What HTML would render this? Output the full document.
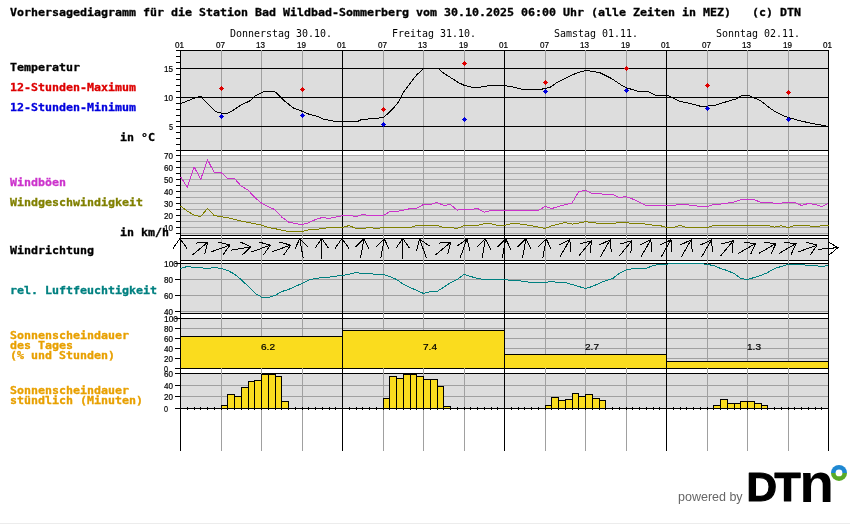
<!DOCTYPE html>
<html lang="de"><head><meta charset="utf-8"><title>Vorhersagediagramm Bad Wildbad-Sommerberg</title>
<style>
html,body{margin:0;padding:0;background:#fff;}
body{width:850px;height:524px;overflow:hidden;position:relative;}
svg{position:absolute;left:0;top:0;display:block;}
.b{font-family:"DejaVu Sans Mono","Liberation Mono",monospace;font-weight:bold;font-size:11px;}
.s{font-family:"DejaVu Sans Mono","Liberation Mono",monospace;font-size:10.5px;}
.t{font-family:"Liberation Sans","DejaVu Sans",sans-serif;font-size:8.6px;fill:#000;stroke:#000;stroke-width:0.2px;}
.crisp{shape-rendering:crispEdges;}
.ln{fill:none;stroke-width:1;shape-rendering:crispEdges;}
</style></head><body>
<svg width="850" height="524" viewBox="0 0 850 524">
<rect x="0" y="0" width="850" height="524" fill="#ffffff"/>
<rect x="0" y="523" width="850" height="1" fill="#ececec"/>
<g class="crisp">
<rect x="180" y="50" width="649" height="101" fill="#dddddd"/>
<rect x="180" y="155" width="649" height="81" fill="#dddddd"/>
<rect x="180" y="238" width="649" height="23" fill="#dddddd"/>
<rect x="180" y="263" width="649" height="51" fill="#dddddd"/>
<rect x="180" y="318" width="649" height="51" fill="#dddddd"/>
<rect x="180" y="373" width="649" height="36" fill="#dddddd"/>
<rect x="180" y="155" width="649" height="1" fill="#aaaaaa"/>
<rect x="180" y="161" width="649" height="1" fill="#aaaaaa"/>
<rect x="180" y="167" width="649" height="1" fill="#aaaaaa"/>
<rect x="180" y="173" width="649" height="1" fill="#aaaaaa"/>
<rect x="180" y="179" width="649" height="1" fill="#aaaaaa"/>
<rect x="180" y="185" width="649" height="1" fill="#aaaaaa"/>
<rect x="180" y="191" width="649" height="1" fill="#aaaaaa"/>
<rect x="180" y="197" width="649" height="1" fill="#aaaaaa"/>
<rect x="180" y="203" width="649" height="1" fill="#aaaaaa"/>
<rect x="180" y="209" width="649" height="1" fill="#aaaaaa"/>
<rect x="180" y="215" width="649" height="1" fill="#aaaaaa"/>
<rect x="180" y="221" width="649" height="1" fill="#aaaaaa"/>
<rect x="180" y="227" width="649" height="1" fill="#aaaaaa"/>
<rect x="180" y="233" width="649" height="1" fill="#aaaaaa"/>
<rect x="180" y="279" width="649" height="1" fill="#a0a0a0"/>
<rect x="180" y="295" width="649" height="1" fill="#a0a0a0"/>
<rect x="180" y="311" width="649" height="1" fill="#a0a0a0"/>
<rect x="180" y="328" width="649" height="1" fill="#a0a0a0"/>
<rect x="180" y="338" width="649" height="1" fill="#a0a0a0"/>
<rect x="180" y="348" width="649" height="1" fill="#a0a0a0"/>
<rect x="180" y="358" width="649" height="1" fill="#a0a0a0"/>
<rect x="180" y="385" width="649" height="1" fill="#a0a0a0"/>
<rect x="180" y="396" width="649" height="1" fill="#a0a0a0"/>
<rect x="180" y="50" width="649" height="1" fill="#000"/>
<rect x="180" y="150" width="649" height="1" fill="#000"/>
<rect x="180" y="235" width="649" height="1" fill="#000"/>
<rect x="180" y="238" width="649" height="1" fill="#000"/>
<rect x="180" y="260" width="649" height="1" fill="#000"/>
<rect x="180" y="263" width="649" height="1" fill="#000"/>
<rect x="180" y="313" width="649" height="1" fill="#000"/>
<rect x="180" y="318" width="649" height="1" fill="#000"/>
<rect x="180" y="368" width="649" height="1" fill="#000"/>
<rect x="180" y="373" width="649" height="1" fill="#000"/>
<rect x="221" y="50" width="1" height="401" fill="#a0a0a0"/>
<rect x="261" y="50" width="1" height="401" fill="#a0a0a0"/>
<rect x="302" y="50" width="1" height="401" fill="#a0a0a0"/>
<rect x="383" y="50" width="1" height="401" fill="#a0a0a0"/>
<rect x="423" y="50" width="1" height="401" fill="#a0a0a0"/>
<rect x="464" y="50" width="1" height="401" fill="#a0a0a0"/>
<rect x="545" y="50" width="1" height="401" fill="#a0a0a0"/>
<rect x="585" y="50" width="1" height="401" fill="#a0a0a0"/>
<rect x="626" y="50" width="1" height="401" fill="#a0a0a0"/>
<rect x="707" y="50" width="1" height="401" fill="#a0a0a0"/>
<rect x="747" y="50" width="1" height="401" fill="#a0a0a0"/>
<rect x="788" y="50" width="1" height="401" fill="#a0a0a0"/>
<rect x="180" y="68" width="649" height="1" fill="#000"/>
<rect x="180" y="97" width="649" height="1" fill="#000"/>
<rect x="180" y="126" width="649" height="1" fill="#000"/>
<rect x="180" y="336" width="163" height="32" fill="#fadc1e"/>
<rect x="180" y="336" width="163" height="1" fill="#000"/>
<rect x="342" y="330" width="163" height="38" fill="#fadc1e"/>
<rect x="342" y="330" width="163" height="1" fill="#000"/>
<rect x="504" y="354" width="163" height="14" fill="#fadc1e"/>
<rect x="504" y="354" width="163" height="1" fill="#000"/>
<rect x="666" y="361" width="163" height="7" fill="#fadc1e"/>
<rect x="666" y="361" width="163" height="1" fill="#000"/>
<rect x="221" y="405" width="7" height="3" fill="#000"/>
<rect x="222" y="406" width="5" height="2" fill="#fadc1e"/>
<rect x="227" y="394" width="8" height="14" fill="#000"/>
<rect x="228" y="395" width="6" height="13" fill="#fadc1e"/>
<rect x="234" y="396" width="8" height="12" fill="#000"/>
<rect x="235" y="397" width="6" height="11" fill="#fadc1e"/>
<rect x="241" y="387" width="8" height="21" fill="#000"/>
<rect x="242" y="388" width="6" height="20" fill="#fadc1e"/>
<rect x="248" y="381" width="7" height="27" fill="#000"/>
<rect x="249" y="382" width="5" height="26" fill="#fadc1e"/>
<rect x="254" y="380" width="8" height="28" fill="#000"/>
<rect x="255" y="381" width="6" height="27" fill="#fadc1e"/>
<rect x="261" y="374" width="8" height="34" fill="#000"/>
<rect x="262" y="375" width="6" height="33" fill="#fadc1e"/>
<rect x="268" y="374" width="8" height="34" fill="#000"/>
<rect x="269" y="375" width="6" height="33" fill="#fadc1e"/>
<rect x="275" y="376" width="7" height="32" fill="#000"/>
<rect x="276" y="377" width="5" height="31" fill="#fadc1e"/>
<rect x="281" y="401" width="8" height="7" fill="#000"/>
<rect x="282" y="402" width="6" height="6" fill="#fadc1e"/>
<rect x="383" y="398" width="7" height="10" fill="#000"/>
<rect x="384" y="399" width="5" height="9" fill="#fadc1e"/>
<rect x="389" y="376" width="8" height="32" fill="#000"/>
<rect x="390" y="377" width="6" height="31" fill="#fadc1e"/>
<rect x="396" y="378" width="8" height="30" fill="#000"/>
<rect x="397" y="379" width="6" height="29" fill="#fadc1e"/>
<rect x="403" y="374" width="8" height="34" fill="#000"/>
<rect x="404" y="375" width="6" height="33" fill="#fadc1e"/>
<rect x="410" y="374" width="7" height="34" fill="#000"/>
<rect x="411" y="375" width="5" height="33" fill="#fadc1e"/>
<rect x="416" y="376" width="8" height="32" fill="#000"/>
<rect x="417" y="377" width="6" height="31" fill="#fadc1e"/>
<rect x="423" y="379" width="8" height="29" fill="#000"/>
<rect x="424" y="380" width="6" height="28" fill="#fadc1e"/>
<rect x="430" y="379" width="8" height="29" fill="#000"/>
<rect x="431" y="380" width="6" height="28" fill="#fadc1e"/>
<rect x="437" y="386" width="7" height="22" fill="#000"/>
<rect x="438" y="387" width="5" height="21" fill="#fadc1e"/>
<rect x="443" y="406" width="8" height="2" fill="#000"/>
<rect x="444" y="407" width="6" height="1" fill="#fadc1e"/>
<rect x="545" y="405" width="7" height="3" fill="#000"/>
<rect x="546" y="406" width="5" height="2" fill="#fadc1e"/>
<rect x="551" y="397" width="8" height="11" fill="#000"/>
<rect x="552" y="398" width="6" height="10" fill="#fadc1e"/>
<rect x="558" y="400" width="8" height="8" fill="#000"/>
<rect x="559" y="401" width="6" height="7" fill="#fadc1e"/>
<rect x="565" y="399" width="8" height="9" fill="#000"/>
<rect x="566" y="400" width="6" height="8" fill="#fadc1e"/>
<rect x="572" y="393" width="7" height="15" fill="#000"/>
<rect x="573" y="394" width="5" height="14" fill="#fadc1e"/>
<rect x="578" y="396" width="8" height="12" fill="#000"/>
<rect x="579" y="397" width="6" height="11" fill="#fadc1e"/>
<rect x="585" y="394" width="8" height="14" fill="#000"/>
<rect x="586" y="395" width="6" height="13" fill="#fadc1e"/>
<rect x="592" y="398" width="8" height="10" fill="#000"/>
<rect x="593" y="399" width="6" height="9" fill="#fadc1e"/>
<rect x="599" y="400" width="7" height="8" fill="#000"/>
<rect x="600" y="401" width="5" height="7" fill="#fadc1e"/>
<rect x="713" y="405" width="8" height="3" fill="#000"/>
<rect x="714" y="406" width="6" height="2" fill="#fadc1e"/>
<rect x="720" y="399" width="8" height="9" fill="#000"/>
<rect x="721" y="400" width="6" height="8" fill="#fadc1e"/>
<rect x="727" y="403" width="8" height="5" fill="#000"/>
<rect x="728" y="404" width="6" height="4" fill="#fadc1e"/>
<rect x="734" y="403" width="7" height="5" fill="#000"/>
<rect x="735" y="404" width="5" height="4" fill="#fadc1e"/>
<rect x="740" y="401" width="8" height="7" fill="#000"/>
<rect x="741" y="402" width="6" height="6" fill="#fadc1e"/>
<rect x="747" y="401" width="8" height="7" fill="#000"/>
<rect x="748" y="402" width="6" height="6" fill="#fadc1e"/>
<rect x="754" y="403" width="8" height="5" fill="#000"/>
<rect x="755" y="404" width="6" height="4" fill="#fadc1e"/>
<rect x="761" y="405" width="7" height="3" fill="#000"/>
<rect x="762" y="406" width="5" height="2" fill="#fadc1e"/>
<rect x="180" y="50" width="1" height="401" fill="#000"/>
<rect x="342" y="50" width="1" height="401" fill="#000"/>
<rect x="504" y="50" width="1" height="401" fill="#000"/>
<rect x="666" y="50" width="1" height="401" fill="#000"/>
<rect x="828" y="50" width="1" height="401" fill="#000"/>
<rect x="175" y="408" width="654" height="1" fill="#000"/>
<rect x="187" y="407" width="1" height="3" fill="#000"/>
<rect x="194" y="407" width="1" height="3" fill="#000"/>
<rect x="200" y="407" width="1" height="3" fill="#000"/>
<rect x="207" y="407" width="1" height="3" fill="#000"/>
<rect x="214" y="407" width="1" height="3" fill="#000"/>
<rect x="221" y="407" width="1" height="3" fill="#000"/>
<rect x="227" y="407" width="1" height="3" fill="#000"/>
<rect x="234" y="407" width="1" height="3" fill="#000"/>
<rect x="241" y="407" width="1" height="3" fill="#000"/>
<rect x="248" y="407" width="1" height="3" fill="#000"/>
<rect x="254" y="407" width="1" height="3" fill="#000"/>
<rect x="261" y="407" width="1" height="3" fill="#000"/>
<rect x="268" y="407" width="1" height="3" fill="#000"/>
<rect x="275" y="407" width="1" height="3" fill="#000"/>
<rect x="281" y="407" width="1" height="3" fill="#000"/>
<rect x="288" y="407" width="1" height="3" fill="#000"/>
<rect x="295" y="407" width="1" height="3" fill="#000"/>
<rect x="302" y="407" width="1" height="3" fill="#000"/>
<rect x="308" y="407" width="1" height="3" fill="#000"/>
<rect x="315" y="407" width="1" height="3" fill="#000"/>
<rect x="322" y="407" width="1" height="3" fill="#000"/>
<rect x="329" y="407" width="1" height="3" fill="#000"/>
<rect x="335" y="407" width="1" height="3" fill="#000"/>
<rect x="342" y="407" width="1" height="3" fill="#000"/>
<rect x="349" y="407" width="1" height="3" fill="#000"/>
<rect x="356" y="407" width="1" height="3" fill="#000"/>
<rect x="362" y="407" width="1" height="3" fill="#000"/>
<rect x="369" y="407" width="1" height="3" fill="#000"/>
<rect x="376" y="407" width="1" height="3" fill="#000"/>
<rect x="383" y="407" width="1" height="3" fill="#000"/>
<rect x="389" y="407" width="1" height="3" fill="#000"/>
<rect x="396" y="407" width="1" height="3" fill="#000"/>
<rect x="403" y="407" width="1" height="3" fill="#000"/>
<rect x="410" y="407" width="1" height="3" fill="#000"/>
<rect x="416" y="407" width="1" height="3" fill="#000"/>
<rect x="423" y="407" width="1" height="3" fill="#000"/>
<rect x="430" y="407" width="1" height="3" fill="#000"/>
<rect x="437" y="407" width="1" height="3" fill="#000"/>
<rect x="443" y="407" width="1" height="3" fill="#000"/>
<rect x="450" y="407" width="1" height="3" fill="#000"/>
<rect x="457" y="407" width="1" height="3" fill="#000"/>
<rect x="464" y="407" width="1" height="3" fill="#000"/>
<rect x="470" y="407" width="1" height="3" fill="#000"/>
<rect x="477" y="407" width="1" height="3" fill="#000"/>
<rect x="484" y="407" width="1" height="3" fill="#000"/>
<rect x="491" y="407" width="1" height="3" fill="#000"/>
<rect x="497" y="407" width="1" height="3" fill="#000"/>
<rect x="504" y="407" width="1" height="3" fill="#000"/>
<rect x="511" y="407" width="1" height="3" fill="#000"/>
<rect x="518" y="407" width="1" height="3" fill="#000"/>
<rect x="524" y="407" width="1" height="3" fill="#000"/>
<rect x="531" y="407" width="1" height="3" fill="#000"/>
<rect x="538" y="407" width="1" height="3" fill="#000"/>
<rect x="545" y="407" width="1" height="3" fill="#000"/>
<rect x="551" y="407" width="1" height="3" fill="#000"/>
<rect x="558" y="407" width="1" height="3" fill="#000"/>
<rect x="565" y="407" width="1" height="3" fill="#000"/>
<rect x="572" y="407" width="1" height="3" fill="#000"/>
<rect x="578" y="407" width="1" height="3" fill="#000"/>
<rect x="585" y="407" width="1" height="3" fill="#000"/>
<rect x="592" y="407" width="1" height="3" fill="#000"/>
<rect x="599" y="407" width="1" height="3" fill="#000"/>
<rect x="605" y="407" width="1" height="3" fill="#000"/>
<rect x="612" y="407" width="1" height="3" fill="#000"/>
<rect x="619" y="407" width="1" height="3" fill="#000"/>
<rect x="626" y="407" width="1" height="3" fill="#000"/>
<rect x="632" y="407" width="1" height="3" fill="#000"/>
<rect x="639" y="407" width="1" height="3" fill="#000"/>
<rect x="646" y="407" width="1" height="3" fill="#000"/>
<rect x="653" y="407" width="1" height="3" fill="#000"/>
<rect x="659" y="407" width="1" height="3" fill="#000"/>
<rect x="666" y="407" width="1" height="3" fill="#000"/>
<rect x="673" y="407" width="1" height="3" fill="#000"/>
<rect x="680" y="407" width="1" height="3" fill="#000"/>
<rect x="686" y="407" width="1" height="3" fill="#000"/>
<rect x="693" y="407" width="1" height="3" fill="#000"/>
<rect x="700" y="407" width="1" height="3" fill="#000"/>
<rect x="707" y="407" width="1" height="3" fill="#000"/>
<rect x="713" y="407" width="1" height="3" fill="#000"/>
<rect x="720" y="407" width="1" height="3" fill="#000"/>
<rect x="727" y="407" width="1" height="3" fill="#000"/>
<rect x="734" y="407" width="1" height="3" fill="#000"/>
<rect x="740" y="407" width="1" height="3" fill="#000"/>
<rect x="747" y="407" width="1" height="3" fill="#000"/>
<rect x="754" y="407" width="1" height="3" fill="#000"/>
<rect x="761" y="407" width="1" height="3" fill="#000"/>
<rect x="767" y="407" width="1" height="3" fill="#000"/>
<rect x="774" y="407" width="1" height="3" fill="#000"/>
<rect x="781" y="407" width="1" height="3" fill="#000"/>
<rect x="788" y="407" width="1" height="3" fill="#000"/>
<rect x="794" y="407" width="1" height="3" fill="#000"/>
<rect x="801" y="407" width="1" height="3" fill="#000"/>
<rect x="808" y="407" width="1" height="3" fill="#000"/>
<rect x="815" y="407" width="1" height="3" fill="#000"/>
<rect x="821" y="407" width="1" height="3" fill="#000"/>
<rect x="176" y="150" width="5" height="1" fill="#000"/>
<rect x="176" y="144" width="5" height="1" fill="#000"/>
<rect x="176" y="138" width="5" height="1" fill="#000"/>
<rect x="176" y="132" width="5" height="1" fill="#000"/>
<rect x="176" y="126" width="5" height="1" fill="#000"/>
<rect x="176" y="121" width="5" height="1" fill="#000"/>
<rect x="176" y="115" width="5" height="1" fill="#000"/>
<rect x="176" y="109" width="5" height="1" fill="#000"/>
<rect x="176" y="103" width="5" height="1" fill="#000"/>
<rect x="176" y="97" width="5" height="1" fill="#000"/>
<rect x="176" y="91" width="5" height="1" fill="#000"/>
<rect x="176" y="85" width="5" height="1" fill="#000"/>
<rect x="176" y="79" width="5" height="1" fill="#000"/>
<rect x="176" y="74" width="5" height="1" fill="#000"/>
<rect x="176" y="68" width="5" height="1" fill="#000"/>
<rect x="176" y="62" width="5" height="1" fill="#000"/>
<rect x="176" y="56" width="5" height="1" fill="#000"/>
<rect x="176" y="50" width="5" height="1" fill="#000"/>
<rect x="176" y="155" width="5" height="1" fill="#000"/>
<rect x="176" y="161" width="5" height="1" fill="#000"/>
<rect x="176" y="167" width="5" height="1" fill="#000"/>
<rect x="176" y="173" width="5" height="1" fill="#000"/>
<rect x="176" y="179" width="5" height="1" fill="#000"/>
<rect x="176" y="185" width="5" height="1" fill="#000"/>
<rect x="176" y="191" width="5" height="1" fill="#000"/>
<rect x="176" y="197" width="5" height="1" fill="#000"/>
<rect x="176" y="203" width="5" height="1" fill="#000"/>
<rect x="176" y="209" width="5" height="1" fill="#000"/>
<rect x="176" y="215" width="5" height="1" fill="#000"/>
<rect x="176" y="221" width="5" height="1" fill="#000"/>
<rect x="176" y="227" width="5" height="1" fill="#000"/>
<rect x="176" y="233" width="5" height="1" fill="#000"/>
<rect x="175" y="263" width="6" height="1" fill="#000"/>
<rect x="175" y="279" width="6" height="1" fill="#000"/>
<rect x="175" y="295" width="6" height="1" fill="#000"/>
<rect x="175" y="311" width="6" height="1" fill="#000"/>
<rect x="175" y="318" width="6" height="1" fill="#000"/>
<rect x="175" y="328" width="6" height="1" fill="#000"/>
<rect x="175" y="338" width="6" height="1" fill="#000"/>
<rect x="175" y="348" width="6" height="1" fill="#000"/>
<rect x="175" y="358" width="6" height="1" fill="#000"/>
<rect x="175" y="368" width="6" height="1" fill="#000"/>
<rect x="175" y="373" width="6" height="1" fill="#000"/>
<rect x="175" y="385" width="6" height="1" fill="#000"/>
<rect x="175" y="396" width="6" height="1" fill="#000"/>
</g>
<polyline class="ln" stroke="#000000" points="180.5,103.7 190.5,99.7 200.5,96.1 205.5,101.7 215.5,111.7 221.9,113.1 227.5,113.1 233.5,110.1 241.5,104.7 249.5,101.1 255.5,95.7 262.5,92.1 268.5,91.1 275.5,92.1 283.5,100.1 293.5,108.1 303.5,111.7 309.5,114.5 316.5,116.1 323.5,119.1 333.5,121.1 342.5,121.5 357.5,121.5 361.5,119.5 375.5,118.5 383.9,117.3 393.5,108.1 399.1,101.1 402.5,93.7 409.5,84.1 416.5,75.1 423.5,68.5 438.5,68.5 443.5,73.1 451.5,78.1 457.5,82.1 464.5,85.5 471.5,87.1 478.5,87.5 489.5,85.5 504.5,85.5 513.5,87.1 522.5,89.5 540.5,89.5 550.5,87.1 557.5,82.1 567.5,77.1 577.5,72.7 586.5,70.5 599.5,72.5 611.5,78.5 621.5,85.1 627.5,88.1 637.5,91.1 647.5,91.5 656.5,95.5 668.5,95.7 679.5,101.1 690.5,103.7 701.5,106.5 714.5,105.5 726.5,101.7 735.5,99.1 741.5,95.7 748.5,95.5 760.5,100.5 768.5,107.1 776.5,112.5 785.5,116.5 798.5,120.5 812.5,123.5 826.5,126.1"/>
<polyline class="ln" stroke="#cc33cc" points="180.5,176.7 187.2,187.1 194.0,166.7 200.8,179.1 207.5,159.7 214.2,172.5 221.0,172.5 227.8,178.5 234.5,178.5 241.2,186.1 248.0,190.1 254.8,197.5 261.5,203.1 268.2,206.5 275.0,209.7 281.8,217.1 288.5,222.1 295.2,223.5 302.0,224.7 308.8,222.7 315.5,219.5 322.2,217.5 329.0,218.5 335.8,217.1 342.5,215.7 349.2,215.5 356.0,216.5 362.8,214.5 369.5,215.5 376.2,215.5 383.0,215.5 389.8,211.7 396.5,211.5 403.2,210.1 410.0,208.7 416.8,208.1 423.5,204.5 430.2,204.5 437.0,202.5 443.8,205.5 450.5,204.5 457.2,210.1 464.0,209.5 470.8,209.5 477.5,208.5 484.2,212.1 491.0,210.5 497.8,210.5 504.5,210.5 511.2,210.5 518.0,210.5 524.8,210.5 531.5,210.5 538.2,210.5 545.0,206.5 551.8,208.5 558.5,206.5 565.2,204.7 572.0,203.1 578.8,191.5 585.5,190.5 592.2,193.5 599.0,193.5 605.8,194.5 612.5,194.5 619.2,197.5 626.0,196.5 632.8,199.1 639.5,202.1 646.2,205.5 653.0,205.5 659.8,205.5 666.5,205.5 673.2,205.5 680.0,204.1 686.8,204.7 693.5,205.5 700.2,206.5 707.0,206.5 713.8,204.5 720.5,204.1 727.2,203.1 734.0,202.1 740.8,199.7 747.5,199.5 754.2,199.5 761.0,202.5 767.8,202.5 774.5,203.1 781.2,203.1 788.0,202.1 794.8,202.5 801.5,205.5 808.2,203.5 815.0,204.5 821.8,206.5 828.5,203.5"/>
<polyline class="ln" stroke="#808000" points="180.5,206.1 187.2,211.1 194.0,215.1 200.8,216.5 207.5,208.5 214.2,215.5 221.0,216.7 227.8,217.7 234.5,219.5 241.2,221.1 248.0,222.5 254.8,223.7 261.5,225.1 268.2,227.5 275.0,228.7 281.8,230.1 288.5,231.5 295.2,231.5 302.0,231.5 308.8,229.7 315.5,229.5 322.2,228.5 329.0,227.7 335.8,227.7 342.5,227.5 349.2,225.5 356.0,228.5 362.8,228.5 369.5,227.5 376.2,228.5 383.0,227.5 389.8,227.5 396.5,227.5 403.2,227.5 410.0,227.5 416.8,225.5 423.5,225.5 430.2,225.5 437.0,225.5 443.8,227.5 450.5,227.5 457.2,228.5 464.0,225.7 470.8,225.5 477.5,225.5 484.2,223.7 491.0,223.7 497.8,225.5 504.5,225.5 511.2,223.7 518.0,223.7 524.8,224.7 531.5,225.7 538.2,227.1 545.0,228.5 551.8,225.7 558.5,224.1 565.2,222.5 572.0,224.1 578.8,223.1 585.5,221.7 592.2,222.5 599.0,223.5 605.8,223.5 612.5,223.5 619.2,222.5 626.0,222.5 632.8,223.5 639.5,223.5 646.2,224.1 653.0,225.1 659.8,225.5 666.5,227.5 673.2,227.5 680.0,225.5 686.8,227.5 693.5,227.5 700.2,227.5 707.0,227.5 713.8,225.5 720.5,225.5 727.2,225.5 734.0,225.5 740.8,225.5 747.5,225.5 754.2,225.5 761.0,225.5 767.8,225.5 774.5,227.1 781.2,225.7 788.0,227.5 794.8,225.5 801.5,225.5 808.2,225.5 815.0,227.1 821.8,225.5 828.5,225.5"/>
<polyline class="ln" stroke="#008080" points="180.5,268.5 187.2,266.5 194.0,267.5 200.8,267.7 207.5,268.5 214.2,267.5 221.0,268.5 227.8,270.5 234.5,274.1 241.2,279.7 248.0,286.1 254.8,293.1 261.5,297.1 268.2,297.5 275.0,295.5 281.8,291.5 288.5,289.5 295.2,286.5 302.0,283.5 308.8,280.1 315.5,278.5 322.2,277.5 329.0,277.1 335.8,276.1 342.5,275.5 349.2,274.1 356.0,272.5 362.8,273.5 369.5,273.5 376.2,274.5 383.0,274.5 389.8,276.5 396.5,279.5 403.2,284.1 410.0,287.5 416.8,290.5 423.5,293.5 430.2,291.7 437.0,291.5 443.8,287.1 450.5,282.7 457.2,279.5 464.0,274.5 470.8,276.5 477.5,278.5 484.2,279.5 491.0,279.5 497.8,279.5 504.5,279.5 511.2,280.5 518.0,280.5 524.8,281.5 531.5,282.5 538.2,282.5 545.0,282.5 551.8,281.5 558.5,282.5 565.2,282.5 572.0,284.5 578.8,286.5 585.5,288.5 592.2,286.5 599.0,283.5 605.8,280.5 612.5,278.7 619.2,273.5 626.0,270.1 632.8,268.5 639.5,268.5 646.2,268.5 653.0,265.5 659.8,264.5 666.5,264.1 673.2,263.5 680.0,263.5 686.8,263.5 693.5,263.5 700.2,263.5 707.0,264.5 713.8,265.5 720.5,268.5 727.2,270.5 734.0,273.5 740.8,278.5 747.5,279.5 754.2,277.5 761.0,275.5 767.8,272.5 774.5,268.5 781.2,266.5 788.0,264.5 794.8,264.1 801.5,264.5 808.2,265.5 815.0,265.5 821.8,266.5 828.5,265.5"/>
<path class="crisp" fill="#dd0000" d="M221 86h1v1h1v1h1v1h-1v1h-1v1h-1v-1h-1v-1h-1v-1h1v-1h1z"/>
<path class="crisp" fill="#dd0000" d="M302 87h1v1h1v1h1v1h-1v1h-1v1h-1v-1h-1v-1h-1v-1h1v-1h1z"/>
<path class="crisp" fill="#dd0000" d="M383 107h1v1h1v1h1v1h-1v1h-1v1h-1v-1h-1v-1h-1v-1h1v-1h1z"/>
<path class="crisp" fill="#dd0000" d="M464 61h1v1h1v1h1v1h-1v1h-1v1h-1v-1h-1v-1h-1v-1h1v-1h1z"/>
<path class="crisp" fill="#dd0000" d="M545 80h1v1h1v1h1v1h-1v1h-1v1h-1v-1h-1v-1h-1v-1h1v-1h1z"/>
<path class="crisp" fill="#dd0000" d="M626 66h1v1h1v1h1v1h-1v1h-1v1h-1v-1h-1v-1h-1v-1h1v-1h1z"/>
<path class="crisp" fill="#dd0000" d="M707 83h1v1h1v1h1v1h-1v1h-1v1h-1v-1h-1v-1h-1v-1h1v-1h1z"/>
<path class="crisp" fill="#dd0000" d="M788 90h1v1h1v1h1v1h-1v1h-1v1h-1v-1h-1v-1h-1v-1h1v-1h1z"/>
<path class="crisp" fill="#0000dd" d="M221 114h1v1h1v1h1v1h-1v1h-1v1h-1v-1h-1v-1h-1v-1h1v-1h1z"/>
<path class="crisp" fill="#0000dd" d="M302 113h1v1h1v1h1v1h-1v1h-1v1h-1v-1h-1v-1h-1v-1h1v-1h1z"/>
<path class="crisp" fill="#0000dd" d="M383 122h1v1h1v1h1v1h-1v1h-1v1h-1v-1h-1v-1h-1v-1h1v-1h1z"/>
<path class="crisp" fill="#0000dd" d="M464 117h1v1h1v1h1v1h-1v1h-1v1h-1v-1h-1v-1h-1v-1h1v-1h1z"/>
<path class="crisp" fill="#0000dd" d="M545 89h1v1h1v1h1v1h-1v1h-1v1h-1v-1h-1v-1h-1v-1h1v-1h1z"/>
<path class="crisp" fill="#0000dd" d="M626 88h1v1h1v1h1v1h-1v1h-1v1h-1v-1h-1v-1h-1v-1h1v-1h1z"/>
<path class="crisp" fill="#0000dd" d="M707 106h1v1h1v1h1v1h-1v1h-1v1h-1v-1h-1v-1h-1v-1h1v-1h1z"/>
<path class="crisp" fill="#0000dd" d="M788 117h1v1h1v1h1v1h-1v1h-1v1h-1v-1h-1v-1h-1v-1h1v-1h1z"/>
<g fill="none" stroke="#000" stroke-width="1" class="crisp">
<path d="M180.0 258.5L180.0 238.5M173.1 248.3L180.0 238.5L186.9 248.3"/>
<path d="M192.6 254.9L207.9 242.1M196.0 243.1L207.9 242.1L204.8 253.7"/>
<path d="M211.1 251.9L229.9 245.1M218.3 242.0L229.9 245.1L223.0 254.9"/>
<path d="M230.9 250.2L250.6 246.8M239.7 241.7L250.6 246.8L242.1 255.2"/>
<path d="M251.6 251.9L270.4 245.1M258.8 242.0L270.4 245.1L263.5 254.9"/>
<path d="M271.9 251.9L290.6 245.1M279.1 242.0L290.6 245.1L283.8 254.9"/>
<path d="M303.2 258.3L299.8 238.7M294.7 249.5L299.8 238.7L308.2 247.1"/>
<path d="M321.8 258.5L321.8 238.5M314.9 248.3L321.8 238.5L328.6 248.3"/>
<path d="M342.0 258.5L342.0 238.5M335.1 248.3L342.0 238.5L348.9 248.3"/>
<path d="M360.5 258.3L364.0 238.7M355.5 247.1L364.0 238.7L369.1 249.5"/>
<path d="M380.8 258.3L384.2 238.7M375.8 247.1L384.2 238.7L389.3 249.5"/>
<path d="M402.8 258.5L402.8 238.5M395.9 248.3L402.8 238.5L409.6 248.3"/>
<path d="M426.4 257.9L419.6 239.1M416.5 250.7L419.6 239.1L429.4 246.0"/>
<path d="M435.6 254.9L450.9 242.1M439.0 243.1L450.9 242.1L447.8 253.7"/>
<path d="M460.1 257.9L466.9 239.1M457.1 246.0L466.9 239.1L470.0 250.7"/>
<path d="M482.0 258.3L485.5 238.7M477.0 247.1L485.5 238.7L490.6 249.5"/>
<path d="M502.3 258.3L505.7 238.7M497.3 247.1L505.7 238.7L510.8 249.5"/>
<path d="M522.5 258.3L526.0 238.7M517.5 247.1L526.0 238.7L531.1 249.5"/>
<path d="M542.8 258.3L546.2 238.7M537.8 247.1L546.2 238.7L551.3 249.5"/>
<path d="M559.8 257.2L569.8 239.8M558.9 244.9L569.8 239.8L570.8 251.8"/>
<path d="M578.6 256.2L591.4 240.8M579.8 243.9L591.4 240.8L590.4 252.8"/>
<path d="M600.2 257.2L610.2 239.8M599.4 244.9L610.2 239.8L611.3 251.8"/>
<path d="M619.1 256.2L631.9 240.8M620.3 243.9L631.9 240.8L630.9 252.8"/>
<path d="M640.8 257.2L650.8 239.8M639.9 244.9L650.8 239.8L651.8 251.8"/>
<path d="M661.0 257.2L671.0 239.8M660.1 244.9L671.0 239.8L672.0 251.8"/>
<path d="M681.2 257.2L691.2 239.8M680.4 244.9L691.2 239.8L692.3 251.8"/>
<path d="M701.5 257.2L711.5 239.8M700.6 244.9L711.5 239.8L712.5 251.8"/>
<path d="M720.3 256.2L733.2 240.8M721.6 243.9L733.2 240.8L732.1 252.8"/>
<path d="M738.3 253.5L755.7 243.5M743.7 242.5L755.7 243.5L750.6 254.4"/>
<path d="M758.6 253.5L775.9 243.5M764.0 242.5L775.9 243.5L770.8 254.4"/>
<path d="M778.8 253.5L796.2 243.5M784.2 242.5L796.2 243.5L791.1 254.4"/>
<path d="M798.4 251.9L817.1 245.1M805.6 242.0L817.1 245.1L810.3 254.9"/>
<path d="M818.0 249.4L838.0 247.6M827.6 241.6L838.0 247.6L828.8 255.3"/>
</g>
<text class="b" x="10" y="16" fill="#000" stroke="#000" stroke-width="0.3" textLength="791" lengthAdjust="spacingAndGlyphs" xml:space="preserve">Vorhersagediagramm für die Station Bad Wildbad-Sommerberg vom 30.10.2025 06:00 Uhr (alle Zeiten in MEZ)   (c) DTN</text>
<text class="b" x="10" y="71" fill="#000" stroke="#000" stroke-width="0.3" textLength="70" lengthAdjust="spacingAndGlyphs" xml:space="preserve">Temperatur</text>
<text class="b" x="10" y="91" fill="#dd0000" stroke="#dd0000" stroke-width="0.3" textLength="126" lengthAdjust="spacingAndGlyphs" xml:space="preserve">12-Stunden-Maximum</text>
<text class="b" x="10" y="111" fill="#0000dd" stroke="#0000dd" stroke-width="0.3" textLength="126" lengthAdjust="spacingAndGlyphs" xml:space="preserve">12-Stunden-Minimum</text>
<text class="b" x="120" y="141" fill="#000" stroke="#000" stroke-width="0.3" textLength="35" lengthAdjust="spacingAndGlyphs" xml:space="preserve">in °C</text>
<text class="b" x="10" y="186" fill="#cc33cc" stroke="#cc33cc" stroke-width="0.3" textLength="56" lengthAdjust="spacingAndGlyphs" xml:space="preserve">Windböen</text>
<text class="b" x="10" y="206" fill="#808000" stroke="#808000" stroke-width="0.3" textLength="133" lengthAdjust="spacingAndGlyphs" xml:space="preserve">Windgeschwindigkeit</text>
<text class="b" x="120" y="236" fill="#000" stroke="#000" stroke-width="0.3" textLength="49" lengthAdjust="spacingAndGlyphs" xml:space="preserve">in km/h</text>
<text class="b" x="10" y="254" fill="#000" stroke="#000" stroke-width="0.3" textLength="84" lengthAdjust="spacingAndGlyphs" xml:space="preserve">Windrichtung</text>
<text class="b" x="10" y="294" fill="#008080" stroke="#008080" stroke-width="0.3" textLength="147" lengthAdjust="spacingAndGlyphs" xml:space="preserve">rel. Luftfeuchtigkeit</text>
<text class="b" x="10" y="339" fill="#e8a000" stroke="#e8a000" stroke-width="0.3" textLength="119" lengthAdjust="spacingAndGlyphs" xml:space="preserve">Sonnenscheindauer</text>
<text class="b" x="10" y="349" fill="#e8a000" stroke="#e8a000" stroke-width="0.3" textLength="63" lengthAdjust="spacingAndGlyphs" xml:space="preserve">des Tages</text>
<text class="b" x="10" y="359" fill="#e8a000" stroke="#e8a000" stroke-width="0.3" textLength="105" lengthAdjust="spacingAndGlyphs" xml:space="preserve">(% und Stunden)</text>
<text class="b" x="10" y="394" fill="#e8a000" stroke="#e8a000" stroke-width="0.3" textLength="119" lengthAdjust="spacingAndGlyphs" xml:space="preserve">Sonnenscheindauer</text>
<text class="b" x="10" y="404" fill="#e8a000" stroke="#e8a000" stroke-width="0.3" textLength="133" lengthAdjust="spacingAndGlyphs" xml:space="preserve">stündlich (Minuten)</text>
<text class="s" x="230" y="36.8" fill="#000" textLength="102" lengthAdjust="spacingAndGlyphs" xml:space="preserve">Donnerstag 30.10.</text>
<text class="s" x="392" y="36.8" fill="#000" textLength="84" lengthAdjust="spacingAndGlyphs" xml:space="preserve">Freitag 31.10.</text>
<text class="s" x="554" y="36.8" fill="#000" textLength="84" lengthAdjust="spacingAndGlyphs" xml:space="preserve">Samstag 01.11.</text>
<text class="s" x="716" y="36.8" fill="#000" textLength="84" lengthAdjust="spacingAndGlyphs" xml:space="preserve">Sonntag 02.11.</text>
<text class="t" x="175" y="48" textLength="9" lengthAdjust="spacingAndGlyphs">01</text>
<text class="t" x="216" y="48" textLength="9" lengthAdjust="spacingAndGlyphs">07</text>
<text class="t" x="256" y="48" textLength="9" lengthAdjust="spacingAndGlyphs">13</text>
<text class="t" x="297" y="48" textLength="9" lengthAdjust="spacingAndGlyphs">19</text>
<text class="t" x="337" y="48" textLength="9" lengthAdjust="spacingAndGlyphs">01</text>
<text class="t" x="378" y="48" textLength="9" lengthAdjust="spacingAndGlyphs">07</text>
<text class="t" x="418" y="48" textLength="9" lengthAdjust="spacingAndGlyphs">13</text>
<text class="t" x="459" y="48" textLength="9" lengthAdjust="spacingAndGlyphs">19</text>
<text class="t" x="499" y="48" textLength="9" lengthAdjust="spacingAndGlyphs">01</text>
<text class="t" x="540" y="48" textLength="9" lengthAdjust="spacingAndGlyphs">07</text>
<text class="t" x="580" y="48" textLength="9" lengthAdjust="spacingAndGlyphs">13</text>
<text class="t" x="621" y="48" textLength="9" lengthAdjust="spacingAndGlyphs">19</text>
<text class="t" x="661" y="48" textLength="9" lengthAdjust="spacingAndGlyphs">01</text>
<text class="t" x="702" y="48" textLength="9" lengthAdjust="spacingAndGlyphs">07</text>
<text class="t" x="742" y="48" textLength="9" lengthAdjust="spacingAndGlyphs">13</text>
<text class="t" x="783" y="48" textLength="9" lengthAdjust="spacingAndGlyphs">19</text>
<text class="t" x="823" y="48" textLength="9" lengthAdjust="spacingAndGlyphs">01</text>
<text class="t" x="164" y="72" textLength="9" lengthAdjust="spacingAndGlyphs">15</text>
<text class="t" x="164" y="101" textLength="9" lengthAdjust="spacingAndGlyphs">10</text>
<text class="t" x="169" y="130" textLength="4" lengthAdjust="spacingAndGlyphs">5</text>
<text class="t" x="164" y="159" textLength="9" lengthAdjust="spacingAndGlyphs">70</text>
<text class="t" x="164" y="171" textLength="9" lengthAdjust="spacingAndGlyphs">60</text>
<text class="t" x="164" y="183" textLength="9" lengthAdjust="spacingAndGlyphs">50</text>
<text class="t" x="164" y="195" textLength="9" lengthAdjust="spacingAndGlyphs">40</text>
<text class="t" x="164" y="207" textLength="9" lengthAdjust="spacingAndGlyphs">30</text>
<text class="t" x="164" y="219" textLength="9" lengthAdjust="spacingAndGlyphs">20</text>
<text class="t" x="164" y="231" textLength="9" lengthAdjust="spacingAndGlyphs">10</text>
<text class="t" x="164" y="267" textLength="14" lengthAdjust="spacingAndGlyphs">100</text>
<text class="t" x="164" y="283" textLength="9" lengthAdjust="spacingAndGlyphs">80</text>
<text class="t" x="164" y="299" textLength="9" lengthAdjust="spacingAndGlyphs">60</text>
<text class="t" x="164" y="315" textLength="9" lengthAdjust="spacingAndGlyphs">40</text>
<text class="t" x="164" y="322" textLength="14" lengthAdjust="spacingAndGlyphs">100</text>
<text class="t" x="164" y="332" textLength="9" lengthAdjust="spacingAndGlyphs">80</text>
<text class="t" x="164" y="342" textLength="9" lengthAdjust="spacingAndGlyphs">60</text>
<text class="t" x="164" y="352" textLength="9" lengthAdjust="spacingAndGlyphs">40</text>
<text class="t" x="164" y="362" textLength="9" lengthAdjust="spacingAndGlyphs">20</text>
<text class="t" x="164" y="372" textLength="4" lengthAdjust="spacingAndGlyphs">0</text>
<text class="t" x="164" y="377" textLength="9" lengthAdjust="spacingAndGlyphs">60</text>
<text class="t" x="164" y="389" textLength="9" lengthAdjust="spacingAndGlyphs">40</text>
<text class="t" x="164" y="400" textLength="9" lengthAdjust="spacingAndGlyphs">20</text>
<text class="t" x="164" y="412" textLength="4" lengthAdjust="spacingAndGlyphs">0</text>
<text class="t" x="261" y="350" textLength="14" lengthAdjust="spacingAndGlyphs">6.2</text>
<text class="t" x="423" y="350" textLength="14" lengthAdjust="spacingAndGlyphs">7.4</text>
<text class="t" x="585" y="350" textLength="14" lengthAdjust="spacingAndGlyphs">2.7</text>
<text class="t" x="747" y="350" textLength="14" lengthAdjust="spacingAndGlyphs">1.3</text>
<text x="678" y="500.6" font-family="'Liberation Sans',sans-serif" font-size="12.5px" fill="#666666">powered by</text>
<g font-family="'Liberation Sans',sans-serif" font-weight="bold" fill="#000" stroke="#000" stroke-linejoin="round">
<text x="746.5" y="501.4" font-size="41.4px" stroke-width="1.2" textLength="30.5" lengthAdjust="spacingAndGlyphs">D</text>
<text x="774.6" y="501.4" font-size="41.4px" stroke-width="1.2" textLength="26.1" lengthAdjust="spacingAndGlyphs">T</text>
<text x="799.2" y="501.8" font-size="55px" stroke-width="0" textLength="34.8" lengthAdjust="spacingAndGlyphs">n</text>
</g>
<path d="M831 472.9a8 8 0 0 1 16 0z" fill="#1e88d2"/>
<path d="M831 472.9a8 8 0 0 0 16 0z" fill="#5aaa28"/>
<circle cx="839" cy="472.9" r="3.4" fill="#fff"/>
</svg>
</body></html>
